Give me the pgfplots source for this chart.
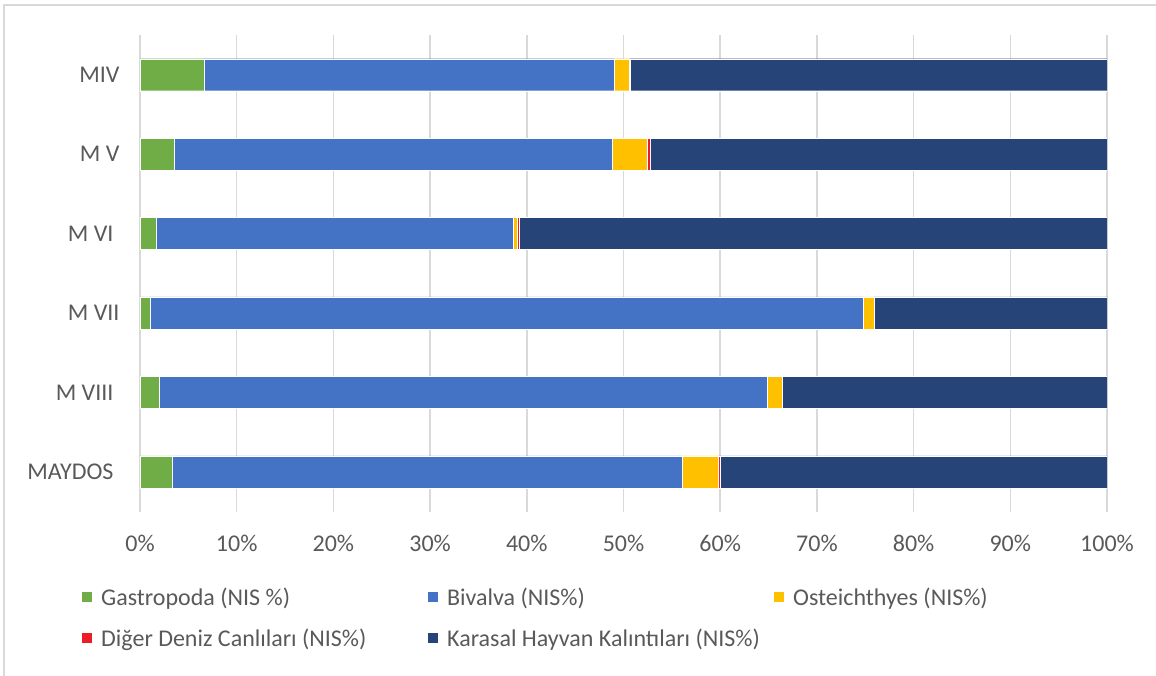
\documentclass[border=0pt]{standalone}
\usepackage{fontspec}
\setmainfont{Carlito}
\usepackage{pgfplots}
\pgfplotsset{compat=1.18}
\definecolor{gastro}{HTML}{70AD47}
\definecolor{bival}{HTML}{4472C4}
\definecolor{osteo}{HTML}{FFC000}
\definecolor{diger}{HTML}{ED1C24}
\definecolor{karasal}{HTML}{264478}
\definecolor{txtgray}{HTML}{595959}
\definecolor{gridgray}{HTML}{D9D9D9}
\begin{document}
\begin{tikzpicture}
\path[use as bounding box] (0pt,0pt) rectangle (1156pt,-675pt);
\draw[gridgray, line width=1.2pt] (4pt,-5pt) rectangle (1170pt,-690pt);
\begin{axis}[
  at={(140pt,-511.5pt)}, anchor=south west,
  scale only axis, width=967pt, height=476.5pt,
  xbar stacked, bar width=32pt,
  xmin=0, xmax=100, ymin=-0.5, ymax=5.5,
  ytick={0,...,5},
  yticklabels={MAYDOS\hspace*{6pt}, M VIII\hspace*{6pt}, M VII, M VI\hspace*{6pt}, M V, MIV},
  xtick={0,10,...,100},
  xticklabel={\pgfmathprintnumber[assume math mode=true]{\tick}\%},
  axis line style={draw=none}, tick style={draw=none},
  xmajorgrids, major grid style={gridgray, line width=1.5pt},
  ticklabel style={font=\fontsize{24}{28}\selectfont, text=txtgray},
  xticklabel style={yshift=-20pt},
  yticklabel style={xshift=-17pt},
  every axis plot/.append style={draw=white, line width=0.4pt},
  legend columns=3,
  legend cell align=left,
  legend image code/.code={\path[#1, draw=none] (0pt,-5pt) rectangle (10pt,5pt);},
  legend style={at={(-0.06,-0.155)}, anchor=north west, draw=none, fill=none,
    inner sep=0pt, font=\fontsize{24}{28}\selectfont, text=txtgray,
    row sep=18pt, /tikz/every odd column/.style={column sep=7pt}},
]
% Gastropoda
\addplot[fill=gastro] coordinates {(3.3,0) (2.0,1) (1.1,2) (1.7,3) (3.5,4) (6.6,5)};
% Bivalva
\addplot[fill=bival] coordinates {(52.75,0) (62.9,1) (73.7,2) (36.9,3) (45.3,4) (42.4,5)};
% Osteichthyes
\addplot[fill=osteo] coordinates {(3.75,0) (1.5,1) (1.1,2) (0.45,3) (3.6,4) (1.6,5)};
% Diger deniz canlilari
\addplot[fill=diger] coordinates {(0.25,0) (0.05,1) (0.05,2) (0.2,3) (0.4,4) (0.1,5)};
% Karasal hayvan kalintilari
\addplot[fill=karasal] coordinates {(39.95,0) (33.55,1) (24.05,2) (60.75,3) (47.2,4) (49.3,5)};
\addlegendentry{\makebox[325pt][l]{Gastropoda (NIS \%)}}
\addlegendentry{\makebox[325pt][l]{Bivalva (NIS\%)}}
\addlegendentry{\makebox[325pt][l]{Osteichthyes (NIS\%)}}
\addlegendentry{\makebox[325pt][l]{Diğer Deniz Canlıları (NIS\%)}}
\addlegendentry{\makebox[325pt][l]{Karasal Hayvan Kalıntıları (NIS\%)}}
\end{axis}
\end{tikzpicture}
\end{document}
